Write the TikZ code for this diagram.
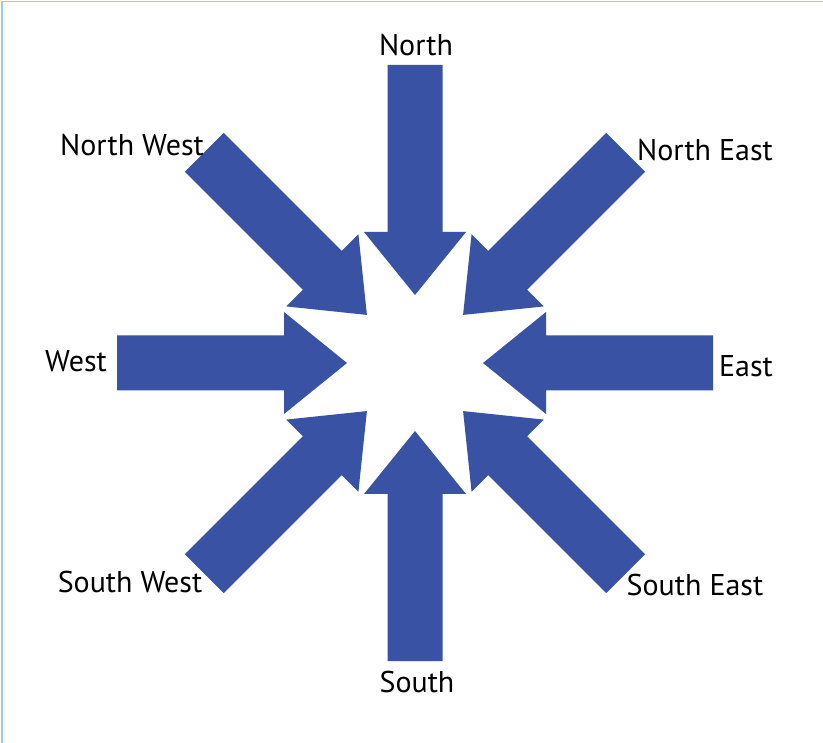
\documentclass[tikz,border=0pt]{standalone}
\usepackage{fontspec}
\setmainfont{PT Sans}
\definecolor{arrowblue}{RGB}{58,82,164}
\definecolor{framecol}{RGB}{150,205,235}
\begin{document}
\begin{tikzpicture}[x=1pt,y=-1pt,
  lbl/.style={font=\fontsize{30}{33}\selectfont, text=black, inner sep=0pt},
  bigarrow/.style={fill=arrowblue, draw=none}]
\useasboundingbox (0,0) rectangle (823,743);
\fill[white] (0,0) rectangle (823,743);
\draw[framecol, line width=1.5pt] (2,743) -- (2,1.5) -- (823,1.5);
\coordinate (c) at (415,363);
\foreach \a in {0,45,...,315}{
  \fill[bigarrow, shift={(c)}, rotate=\a]
    (68,0) -- (131,-51) -- (131,-27.5) -- (298,-27.5) -- (298,27.5) -- (131,27.5) -- (131,51) -- cycle;
}
\node[lbl] (n)  at (416,45)  {North};
\node[lbl] (nw) at (132,145) {North West};
\node[lbl] (ne) at (705,150) {North East};
\node[lbl] (w)  at (76,361)  {West};
\node[lbl] (e)  at (746,366) {East};
\node[lbl] (sw) at (130,582) {South West};
\node[lbl] (se) at (695,585) {South East};
\node[lbl] (s)  at (417,682) {South};
\end{tikzpicture}
\end{document}
